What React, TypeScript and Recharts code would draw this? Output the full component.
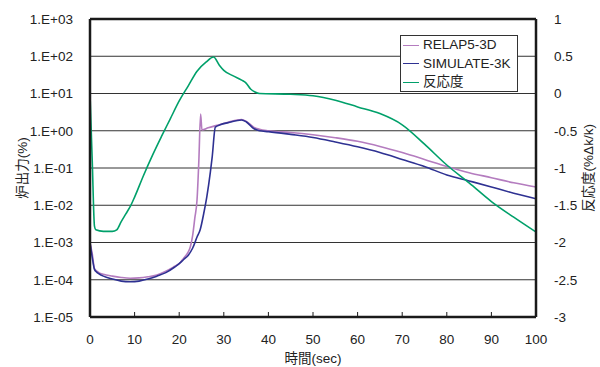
import React from 'react';
import { LineChart, Line, XAxis, YAxis, CartesianGrid, Legend, ReferenceLine } from 'recharts';

// 時間 (sec) と各系列の値
const relapTime = [0, 0.5, 1, 1.5, 2, 3, 5, 7, 9, 11, 13, 15, 17, 19, 20, 21, 22, 22.5, 23, 23.5, 24, 24.4, 24.8, 25.1, 26.5, 28.5, 31, 34, 35, 36.7, 38, 40, 45, 50, 55, 60, 65, 70, 75, 80, 85, 90, 95, 100];
const relapPower = [1e-3, 5e-4, 2e-4, 1.7e-4, 1.55e-4, 1.4e-4, 1.25e-4, 1.15e-4, 1.1e-4, 1.12e-4, 1.2e-4, 1.35e-4, 1.7e-4, 2.3e-4, 2.7e-4, 3.8e-4, 5.5e-4, 7.7e-4, 1.5e-3, 4.5e-3, 0.014, 0.15, 2.8, 1.05, 1.2, 1.4, 1.7, 2.0, 1.8, 1.25, 1.1, 1.0, 0.9, 0.78, 0.65, 0.52, 0.38, 0.26, 0.17, 0.11, 0.075, 0.055, 0.04, 0.031];

const simTime = [0, 0.5, 1, 1.5, 2, 3, 5, 7, 9, 11, 13, 15, 17, 19, 20, 21, 22, 23, 24, 24.7, 25.5, 26.2, 27, 27.4, 28.1, 29.2, 31, 34, 35, 36.7, 38, 40, 45, 50, 55, 60, 65, 70, 75, 80, 85, 90, 95, 100];
const simPower = [1e-3, 4e-4, 1.9e-4, 1.6e-4, 1.45e-4, 1.25e-4, 1.05e-4, 9.2e-5, 8.8e-5, 9.2e-5, 1.05e-4, 1.25e-4, 1.55e-4, 2.2e-4, 2.7e-4, 3.5e-4, 4.5e-4, 7e-4, 1.4e-3, 2.2e-3, 6e-3, 0.017, 0.08, 0.2, 1.25, 1.45, 1.65, 1.95, 1.75, 1.15, 1.0, 0.95, 0.8, 0.66, 0.5, 0.37, 0.26, 0.17, 0.11, 0.065, 0.045, 0.031, 0.021, 0.015];

const rhoTime = [0, 0.5, 1, 1.3, 3, 5, 6, 7, 8, 9, 10, 12, 14, 16, 18, 20, 22, 24, 26, 27.7, 29, 30, 32, 34, 35, 36, 37, 38, 45, 50, 55, 60, 65, 70, 75, 80, 85, 90, 95, 100];
const rhoValue = [0, -0.9, -1.78, -1.83, -1.85, -1.85, -1.83, -1.72, -1.62, -1.52, -1.39, -1.1, -0.83, -0.58, -0.34, -0.1, 0.1, 0.3, 0.42, 0.49, 0.38, 0.31, 0.24, 0.18, 0.14, 0.06, 0.02, 0, -0.01, -0.03, -0.09, -0.18, -0.27, -0.42, -0.68, -0.96, -1.2, -1.45, -1.66, -1.86];

const xTicks = [0, 10, 20, 30, 40, 50, 60, 70, 80, 90, 100];
const powerTicks = [1e-5, 1e-4, 1e-3, 1e-2, 1e-1, 1, 10, 100, 1000];
const rhoTicks = [-3, -2.5, -2, -1.5, -1, -0.5, 0, 0.5, 1];

const relapData = relapTime.map((t, i) => ({ t, v: relapPower[i] }));
const simData = simTime.map((t, i) => ({ t, v: simPower[i] }));
const rhoData = rhoTime.map((t, i) => ({ t, v: rhoValue[i] }));

const FONT = "'Liberation Sans', Arial, 'Noto Sans CJK JP', sans-serif";
const TEXT = '#222';
const FRAME = '#1a1a1a';

const fmtPower = (v: number) => {
  const e = Math.round(Math.log10(v));
  return `1.E${e >= 0 ? '+' : '-'}${String(Math.abs(e)).padStart(2, '0')}`;
};

// x軸の目盛は内向き
const XTick = (props: any) => {
  const { x, y, payload } = props;
  return (
    <g>
      {payload.value !== 0 && payload.value !== 100 && (
        <line x1={x} y1={y} x2={x} y2={y - 5} stroke={FRAME} strokeWidth={1} />
      )}
      <text x={x} y={y + 27} textAnchor="middle" fontSize={13.5} fill={TEXT}>
        {payload.value}
      </text>
    </g>
  );
};

const LeftLabel = (props: any) => {
  const vb = props.viewBox || { y: 19, height: 298 };
  const cx = 22;
  const cy = vb.y + vb.height / 2;
  return (
    <text x={cx} y={cy} transform={`rotate(-90 ${cx} ${cy})`} textAnchor="middle" dominantBaseline="central" fontSize={13.5} fill={TEXT}>
      炉出力(%)
    </text>
  );
};

const RightLabel = (props: any) => {
  const vb = props.viewBox || { y: 19, height: 298 };
  const cx = 588;
  const cy = vb.y + vb.height / 2;
  return (
    <text x={cx} y={cy} transform={`rotate(-90 ${cx} ${cy})`} textAnchor="middle" dominantBaseline="central" fontSize={13.5} fill={TEXT}>
      反応度(%Δk/k)
    </text>
  );
};

const renderLegend = (props: any) => (
  <div style={{ width: 118, height: 57, boxSizing: 'border-box', border: '1px solid #333', background: '#fff', fontFamily: FONT }}>
    {(props.payload || []).map((entry: any) => (
      <div key={entry.value} style={{ display: 'flex', alignItems: 'center', height: 18.5 }}>
        <span style={{ display: 'inline-block', width: 16, height: 0, borderTop: `1.5px solid ${entry.color}`, marginLeft: 2, marginRight: 4 }} />
        <span style={{ fontSize: 13.5, lineHeight: '18px', color: TEXT, whiteSpace: 'nowrap' }}>{entry.value}</span>
      </div>
    ))}
  </div>
);

export default function App() {
  return (
    <div style={{ position: 'absolute', left: 0, top: 0, width: 600, height: 367, background: '#fff', fontFamily: FONT }}>
      <LineChart width={600} height={367} margin={{ top: 19, right: 0, bottom: 0, left: 0 }}>
        <CartesianGrid yAxisId="left" vertical={false} stroke="#333" strokeWidth={1} />
        <XAxis
          dataKey="t"
          type="number"
          domain={[0, 100]}
          ticks={xTicks}
          height={50}
          tickLine={false}
          tickSize={0}
          tickMargin={0}
          tick={<XTick />}
          axisLine={{ stroke: FRAME, strokeWidth: 2.5 }}
          label={{ value: '時間(sec)', position: 'insideBottom', offset: 4, fontSize: 13.5, fill: TEXT }}
        />
        <YAxis
          yAxisId="left"
          scale="log"
          domain={[1e-5, 1000]}
          ticks={powerTicks}
          allowDataOverflow
          width={90}
          tickLine={false}
          tickMargin={11}
          tickFormatter={fmtPower}
          tick={{ fontSize: 13.5, fill: TEXT }}
          axisLine={{ stroke: FRAME, strokeWidth: 2.5 }}
          label={<LeftLabel />}
        />
        <YAxis
          yAxisId="right"
          orientation="right"
          domain={[-3, 1]}
          ticks={rhoTicks}
          allowDataOverflow
          width={64}
          tickLine={false}
          tickMargin={12}
          tick={{ fontSize: 13.5, fill: TEXT }}
          axisLine={{ stroke: FRAME, strokeWidth: 2.5 }}
          label={<RightLabel />}
        />
        <Legend
          layout="vertical"
          align="center"
          verticalAlign="middle"
          content={renderLegend}
          wrapperStyle={{ left: 400, top: 35, width: 118, height: 57 }}
        />
        <Line yAxisId="left" data={relapData} dataKey="v" name="RELAP5-3D" type="monotone" stroke="#b47cbf" strokeWidth={1.6} dot={false} isAnimationActive={false} />
        <Line yAxisId="left" data={simData} dataKey="v" name="SIMULATE-3K" type="monotone" stroke="#2e3192" strokeWidth={1.6} dot={false} isAnimationActive={false} />
        <Line yAxisId="right" data={rhoData} dataKey="v" name="反応度" type="monotone" stroke="#00a06a" strokeWidth={1.6} dot={false} isAnimationActive={false} />
        <ReferenceLine yAxisId="left" y={1000} stroke={FRAME} strokeWidth={2.5} />
      </LineChart>
    </div>
  );
}
